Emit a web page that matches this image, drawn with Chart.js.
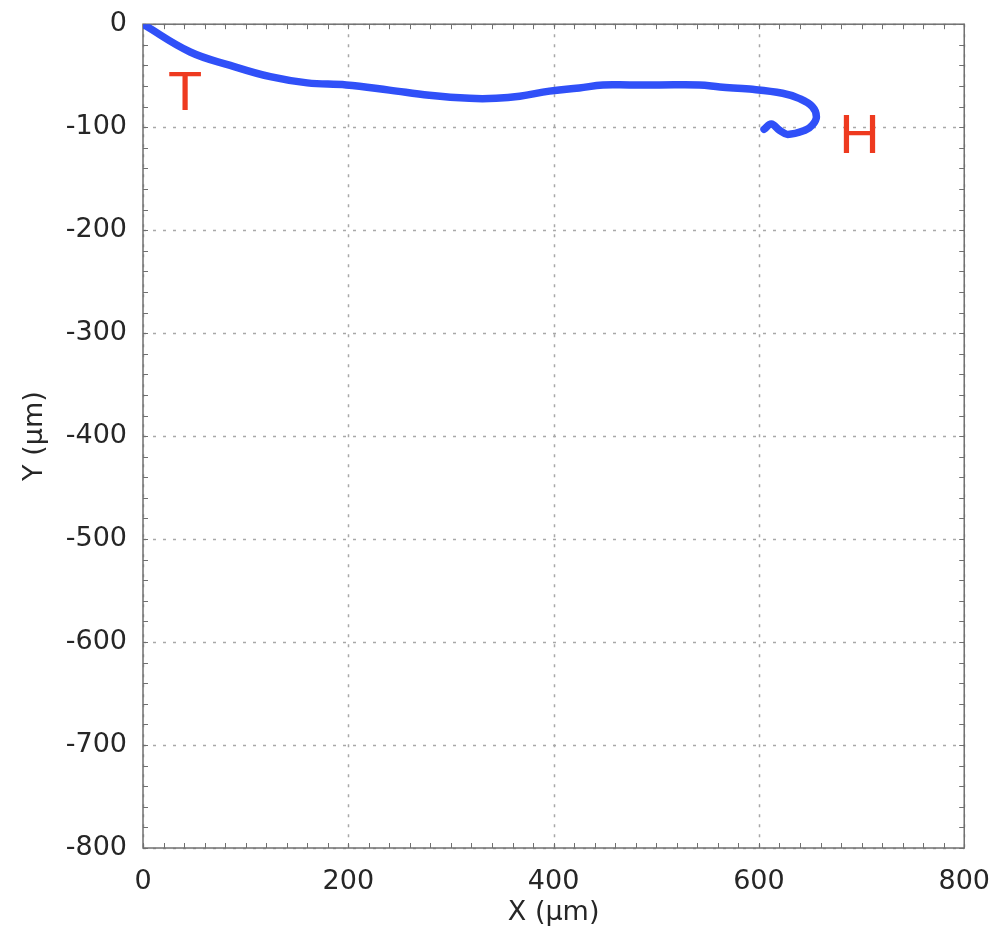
<!DOCTYPE html>
<html>
<head>
<meta charset="utf-8">
<script src="https://cdn.jsdelivr.net/npm/chart.js@4"></script>
<style>
  html, body { margin: 0; padding: 0; background: #fff; }
  #wrap { width: 1000px; height: 931px; }
</style>
</head>
<body>
<div id="wrap"><canvas id="track"></canvas></div>
<script>
// traced path of the head, in micrometres
const pathX = [0, 46, 85, 124, 160, 198, 240, 279, 318, 344, 367, 396, 425, 448, 474, 503, 542, 562, 591, 623, 639, 652, 656, 652, 645, 628, 620, 612, 605];
const pathY = [0, -27, -40, -51, -57, -59, -64, -69, -72, -72, -70, -65, -62, -59, -59, -59, -59, -61, -63, -67, -72, -80, -90, -98, -103, -107, -103, -97, -102];

const xTicks = [0, 200, 400, 600, 800];
const yTicks = [0, -100, -200, -300, -400, -500, -600, -700, -800];

// tail / head markers
const markText = ['T', 'H'];
const markX = [41, 698];
const markY = [-68, -110];

const fontFamily = '"DejaVu Sans", sans-serif';
const textColor = '#262626';

// dotted grid, box frame and inward minor ticks
const framePlugin = {
  id: 'frame',
  beforeDatasetsDraw(chart) {
    const { ctx, chartArea: a, scales: { x, y } } = chart;
    ctx.save();
    ctx.strokeStyle = '#a8a8a8';
    ctx.lineWidth = 1.5;
    ctx.setLineDash([3, 7]);
    xTicks.forEach(v => {
      const px = Math.round(x.getPixelForValue(v)) + 0.5;
      ctx.beginPath(); ctx.moveTo(px, a.top); ctx.lineTo(px, a.bottom); ctx.stroke();
    });
    yTicks.forEach(v => {
      const py = Math.round(y.getPixelForValue(v)) + 0.5;
      ctx.beginPath(); ctx.moveTo(a.left, py); ctx.lineTo(a.right, py); ctx.stroke();
    });
    ctx.setLineDash([]);
    ctx.strokeStyle = '#707070';
    ctx.lineWidth = 1;
    for (let v = 0; v <= 800; v += 20) {
      const px = Math.round(x.getPixelForValue(v)) + 0.5;
      ctx.beginPath();
      ctx.moveTo(px, a.bottom); ctx.lineTo(px, a.bottom - 5);
      ctx.moveTo(px, a.top); ctx.lineTo(px, a.top + 5);
      ctx.stroke();
    }
    for (let v = -800; v <= 0; v += 20) {
      const py = Math.round(y.getPixelForValue(v)) + 0.5;
      ctx.beginPath();
      ctx.moveTo(a.left, py); ctx.lineTo(a.left + 5, py);
      ctx.moveTo(a.right, py); ctx.lineTo(a.right - 5, py);
      ctx.stroke();
    }
    ctx.lineWidth = 1.5;
    ctx.strokeRect(a.left, a.top, a.right - a.left, a.bottom - a.top);
    ctx.restore();
  },
  afterDatasetsDraw(chart) {
    const { ctx, scales: { x, y } } = chart;
    ctx.save();
    ctx.fillStyle = '#ee3a1f';
    ctx.font = '56px "Liberation Sans", Arial, sans-serif';
    ctx.textAlign = 'center';
    ctx.textBaseline = 'middle';
    markText.forEach((t, i) => {
      ctx.fillText(t, x.getPixelForValue(markX[i]), y.getPixelForValue(markY[i]));
    });
    ctx.restore();
  }
};

const points = pathX.map((v, i) => ({ x: v, y: pathY[i] }));

new Chart(document.getElementById('track'), {
  type: 'scatter',
  data: {
    datasets: [{
      data: points,
      showLine: true,
      borderColor: '#3050f8',
      borderWidth: 7.5,
      borderCapStyle: 'round',
      borderJoinStyle: 'round',
      tension: 0.4,
      pointRadius: 0
    }]
  },
  options: {
    responsive: true,
    maintainAspectRatio: false,
    animation: false,
    layout: { padding: { top: 22, right: 35, left: 0, bottom: 0 } },
    plugins: { legend: { display: false }, tooltip: { enabled: false } },
    scales: {
      x: {
        type: 'linear',
        min: 0, max: 800,
        afterFit(s) { s.height = 83; },
        afterBuildTicks(s) { s.ticks = xTicks.map(v => ({ value: v })); },
        grid: { display: false },
        border: { display: false },
        ticks: { color: textColor, padding: 10, maxRotation: 0, font: { family: fontFamily, size: 27 } },
        title: { display: true, text: 'X (µm)', color: textColor, padding: { top: 2, bottom: 2 }, font: { family: fontFamily, size: 27 } }
      },
      y: {
        type: 'linear',
        min: -800, max: 0,
        afterFit(s) { s.width = 143; },
        afterBuildTicks(s) { s.ticks = yTicks.map(v => ({ value: v })); },
        grid: { display: false },
        border: { display: false },
        ticks: { color: textColor, padding: 8, font: { family: fontFamily, size: 27 } },
        title: { display: true, text: 'Y (µm)', color: textColor, padding: { top: 19, bottom: 19 }, font: { family: fontFamily, size: 27 } }
      }
    }
  },
  plugins: [framePlugin]
});
</script>
</body>
</html>
